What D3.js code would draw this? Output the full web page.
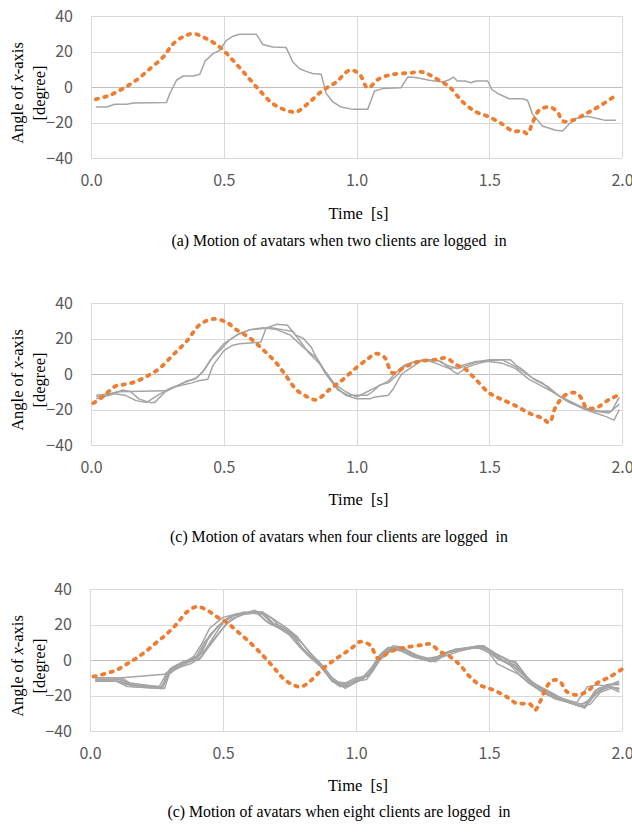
<!DOCTYPE html>
<html><head><meta charset="utf-8">
<script src="https://cdn.jsdelivr.net/npm/d3@7"></script>
<style>html,body{margin:0;padding:0;background:#fff;} svg{display:block;}</style>
</head><body>
<svg id="chart" width="632" height="835"></svg>
<script>
// ---- tick labels ----
const xTicks = [0, 0.5, 1.0, 1.5, 2.0];
const yTicks = [-40, -20, 0, 20, 40];
const xTitle = "Time  [s]";
const captions = [
  "(a) Motion of avatars when two clients are logged  in",
  "(c) Motion of avatars when four clients are logged  in",
  "(c) Motion of avatars when eight clients are logged  in"
];

// ---- panel (a): two clients ----
const p1Orange = [[0.018,-6.9],[0.07,-4.7],[0.12,-0.9],[0.17,3.8],[0.222,10.3],[0.272,16.9],[0.31,24.4],[0.35,28.5],[0.385,30],[0.435,27.2],[0.485,22.5],[0.535,15],[0.585,6.6],[0.635,-1.9],[0.685,-9.4],[0.735,-13.1],[0.773,-14],[0.823,-8.5],[0.873,-1.9],[0.924,2.8],[0.974,9.4],[1.01,7.5],[1.042,-0.4],[1.086,4.7],[1.137,7.1],[1.2,7.9],[1.25,8.4],[1.3,4.7],[1.35,0],[1.4,-8.4],[1.45,-14],[1.5,-16.9],[1.55,-21],[1.588,-24.8],[1.625,-24.8],[1.644,-26.2],[1.662,-20.6],[1.688,-13.1],[1.726,-11.3],[1.757,-14],[1.776,-19.1],[1.813,-18.8],[1.864,-15],[1.914,-10.9],[1.977,-4.7]];
const p1Gray = [[0.018,-11.3],[0.059,-11.3],[0.09,-9.7],[0.134,-9.7],[0.16,-9],[0.284,-8.8],[0.297,-3.7],[0.322,3.8],[0.347,6.2],[0.385,6.2],[0.41,7.2],[0.43,14.7],[0.46,18.8],[0.485,20.7],[0.51,26.3],[0.535,28.6],[0.56,29.7],[0.623,29.7],[0.647,24],[0.685,22.5],[0.735,22.2],[0.76,14.1],[0.786,10.3],[0.81,8.8],[0.835,7.6],[0.867,7.2],[0.886,-3.7],[0.911,-8.4],[0.942,-11.3],[0.986,-12.6],[1.042,-12.6],[1.068,-2.2],[1.099,-0.9],[1.168,-0.4],[1.193,5.6],[1.224,5.3],[1.274,3.8],[1.325,2.8],[1.35,4.1],[1.365,5.6],[1.38,3.4],[1.41,3.4],[1.43,2.4],[1.45,3.4],[1.494,3.4],[1.51,-1.5],[1.538,-4.1],[1.575,-6.6],[1.625,-6.6],[1.644,-7.5],[1.662,-15],[1.7,-22],[1.75,-24.4],[1.776,-24.8],[1.8,-21],[1.825,-17.8],[1.869,-16.5],[1.938,-18.8],[1.977,-18.8]];

// ---- panel (c): four clients ----
const p2Orange = [[0.009,-16.4],[0.046,-12.6],[0.09,-7],[0.12,-6],[0.16,-4.7],[0.21,-1.3],[0.26,3.4],[0.31,10.9],[0.36,18.4],[0.41,27.8],[0.46,31],[0.51,29.2],[0.547,25],[0.598,20.3],[0.648,13.7],[0.698,6.2],[0.736,-1.3],[0.773,-8.8],[0.81,-12.5],[0.848,-14.5],[0.898,-8.8],[0.948,-3.2],[0.998,3.4],[1.042,8.5],[1.074,11.5],[1.105,9.5],[1.136,0.6],[1.186,4.3],[1.237,7.1],[1.3,8.1],[1.337,9],[1.375,5.3],[1.413,2.4],[1.45,-3.2],[1.5,-10.7],[1.55,-14.5],[1.6,-17.9],[1.65,-22],[1.7,-24.9],[1.726,-27.3],[1.751,-18.3],[1.788,-11.7],[1.826,-10.7],[1.851,-14.5],[1.864,-18.7],[1.9,-19.2],[1.95,-14.5],[1.989,-11.7]];
const p2GrayA = [[0.02,-12],[0.08,-11],[0.13,-12],[0.17,-15],[0.21,-16],[0.25,-12],[0.3,-8],[0.35,-5],[0.4,-2],[0.43,3],[0.46,10],[0.5,17],[0.55,22],[0.6,25],[0.65,26],[0.7,25],[0.75,22],[0.8,15],[0.85,9],[0.88,2],[0.92,-6],[0.96,-10],[1.0,-13],[1.04,-10],[1.08,-7],[1.12,-4],[1.15,1],[1.18,5],[1.22,7],[1.26,8],[1.3,6],[1.35,3],[1.4,5],[1.45,7],[1.5,7],[1.55,6],[1.6,3],[1.65,-3],[1.7,-7],[1.75,-11],[1.8,-16],[1.85,-19],[1.9,-21],[1.95,-22],[1.99,-17]];
const p2GrayB = [[0.02,-13],[0.05,-12],[0.1,-10],[0.28,-9.5],[0.3,-8],[0.35,-6],[0.38,-5],[0.4,-4],[0.44,-3],[0.46,5],[0.5,13],[0.53,16],[0.56,17],[0.6,17.5],[0.64,18],[0.66,26],[0.7,28],[0.74,27.5],[0.77,22],[0.8,20],[0.83,15],[0.85,9],[0.88,1],[0.92,-7],[0.96,-12],[1.0,-14],[1.05,-14],[1.07,-13],[1.12,-12],[1.14,-8],[1.17,0],[1.2,3],[1.24,7],[1.28,8],[1.32,7],[1.36,2],[1.38,0],[1.42,4],[1.46,6],[1.5,7.5],[1.55,8],[1.58,8],[1.6,5],[1.63,2],[1.66,-2],[1.7,-5],[1.74,-10],[1.78,-14],[1.82,-17],[1.86,-20],[1.9,-22],[1.94,-24],[1.97,-26],[1.99,-20]];
const p2GrayC = [[0.02,-14],[0.07,-12],[0.12,-9],[0.15,-10],[0.18,-14],[0.22,-16],[0.24,-16],[0.28,-10],[0.32,-7],[0.36,-4],[0.39,-3],[0.42,1],[0.45,8],[0.49,14],[0.52,19],[0.56,23],[0.6,25],[0.64,25.5],[0.68,26],[0.72,25],[0.76,24],[0.79,18],[0.82,12],[0.86,6],[0.89,-1],[0.93,-9],[0.97,-12],[1.0,-12],[1.04,-12],[1.06,-10],[1.09,-6],[1.12,-5],[1.15,-1],[1.18,4],[1.22,7],[1.26,8],[1.3,8],[1.34,5],[1.38,3],[1.42,5],[1.46,7],[1.5,8],[1.55,8],[1.6,4],[1.64,0],[1.68,-4],[1.72,-7],[1.76,-12],[1.8,-15],[1.84,-18],[1.88,-20],[1.92,-21],[1.96,-21],[1.99,-13]];

// ---- panel (c): eight clients ----
const p3Orange = [[0.013,-9.4],[0.063,-7.5],[0.1,-5.6],[0.138,-2.3],[0.175,1.1],[0.213,5.2],[0.25,9.9],[0.288,14.6],[0.326,20.3],[0.363,26.9],[0.401,30],[0.439,28.2],[0.476,24.4],[0.514,21.2],[0.551,16.5],[0.601,9.9],[0.651,2.4],[0.689,-3.9],[0.726,-10.3],[0.764,-14.1],[0.795,-15],[0.827,-12],[0.877,-4.7],[0.927,0.9],[0.965,4.7],[0.99,7.5],[1.015,10.3],[1.052,8.5],[1.084,0.9],[1.128,4.7],[1.19,7.2],[1.253,8.5],[1.278,9],[1.316,4.7],[1.353,1.9],[1.391,-2.8],[1.428,-9.4],[1.466,-14.1],[1.516,-16.9],[1.566,-20.7],[1.604,-24.4],[1.654,-24.8],[1.673,-28.2],[1.692,-23.5],[1.717,-15],[1.742,-11.3],[1.767,-12.2],[1.792,-17.8],[1.83,-19.7],[1.867,-17.8],[1.905,-13.1],[1.955,-9.4],[1.999,-5.3]];
const p3Gray1 = [[0.02,-10],[0.12,-10],[0.2,-9],[0.28,-8],[0.31,-5],[0.35,-2],[0.39,2],[0.42,9],[0.45,18],[0.5,24],[0.55,26],[0.6,26],[0.64,27],[0.68,21],[0.72,19],[0.76,15],[0.79,8],[0.83,2],[0.87,-3],[0.91,-12],[0.96,-13],[1.0,-10],[1.05,-9],[1.08,0],[1.11,5],[1.14,8],[1.18,7],[1.22,2],[1.28,0],[1.32,3],[1.38,6],[1.44,7],[1.48,8],[1.52,2],[1.56,-1],[1.6,-3],[1.64,-10],[1.68,-14],[1.73,-18],[1.78,-22],[1.83,-24],[1.87,-15],[1.91,-14],[1.95,-15],[1.99,-16]];
const p3Gray2 = [[0.02,-11],[0.12,-11],[0.16,-15],[0.27,-16],[0.3,-6],[0.34,-3],[0.38,0],[0.41,3],[0.44,11],[0.48,19],[0.52,24],[0.57,26],[0.62,28],[0.66,25],[0.7,19],[0.74,16],[0.77,12],[0.81,4],[0.85,0],[0.89,-8],[0.93,-14],[0.97,-15],[1.02,-11],[1.05,-8],[1.08,1],[1.12,6],[1.15,7],[1.19,4],[1.24,1],[1.28,-1],[1.32,3],[1.37,6],[1.43,7],[1.49,6],[1.53,1],[1.57,-2],[1.61,-5],[1.65,-12],[1.7,-18],[1.76,-22],[1.82,-25],[1.86,-27],[1.9,-19],[1.94,-14],[1.99,-13]];
const p3Gray3 = [[0.02,-12],[0.11,-12],[0.15,-14],[0.27,-15],[0.3,-5],[0.34,-2],[0.37,-1],[0.41,0],[0.44,6],[0.47,12],[0.51,20],[0.55,24],[0.6,27],[0.65,26],[0.68,24],[0.72,18],[0.76,15],[0.8,9],[0.84,2],[0.88,-4],[0.92,-12],[0.96,-16],[1.0,-12],[1.04,-11],[1.07,-4],[1.1,3],[1.13,6],[1.17,5],[1.21,2],[1.26,0],[1.3,-1],[1.34,4],[1.4,6],[1.47,8],[1.51,5],[1.55,0],[1.6,-1],[1.64,-9],[1.68,-15],[1.74,-20],[1.8,-23],[1.85,-25],[1.88,-22],[1.92,-17],[1.96,-15],[1.99,-17]];
const p3Gray4 = [[0.02,-12],[0.1,-12],[0.14,-15],[0.27,-16],[0.29,-9],[0.33,-4],[0.36,-2],[0.4,1],[0.43,5],[0.46,12],[0.5,21],[0.54,25],[0.59,26],[0.63,27],[0.66,22],[0.71,18],[0.75,16],[0.78,10],[0.82,3],[0.86,-1],[0.9,-10],[0.94,-15],[0.98,-14],[1.03,-10],[1.06,-6],[1.09,2],[1.12,5],[1.16,7],[1.2,5],[1.25,1],[1.29,0],[1.33,2],[1.39,5],[1.45,7],[1.49,7],[1.53,3],[1.57,0],[1.61,-6],[1.66,-13],[1.71,-17],[1.76,-21],[1.81,-24],[1.86,-27],[1.89,-21],[1.93,-16],[1.97,-13],[1.99,-12]];
const p3Gray5 = [[0.02,-11],[0.11,-11],[0.15,-13],[0.26,-15],[0.29,-7],[0.33,-3],[0.37,0],[0.4,2],[0.43,10],[0.47,17],[0.51,23],[0.56,26],[0.61,27],[0.65,27],[0.69,20],[0.73,17],[0.77,13],[0.8,6],[0.84,1],[0.88,-6],[0.92,-13],[0.96,-14],[1.0,-11],[1.04,-9],[1.07,-3],[1.1,2],[1.14,6],[1.18,6],[1.22,3],[1.27,1],[1.31,2],[1.35,5],[1.41,6],[1.46,7],[1.5,4],[1.53,-2],[1.57,-5],[1.61,-8],[1.65,-13],[1.7,-18],[1.75,-22],[1.8,-24],[1.84,-26],[1.88,-25],[1.92,-18],[1.96,-16],[1.99,-18]];
const p3Gray6 = [[0.02,-10],[0.12,-10],[0.16,-14],[0.28,-16],[0.3,-7],[0.34,-4],[0.38,-2],[0.42,2],[0.45,9],[0.49,16],[0.53,23],[0.58,26],[0.62,27],[0.66,26],[0.7,22],[0.74,18],[0.78,13],[0.82,5],[0.86,-1],[0.9,-9],[0.94,-13],[0.98,-13],[1.02,-10],[1.06,-7],[1.09,0],[1.12,4],[1.15,6],[1.19,5],[1.23,2],[1.28,0],[1.32,2],[1.36,5],[1.42,7],[1.48,8],[1.52,4],[1.56,1],[1.6,-2],[1.63,-8],[1.67,-14],[1.72,-19],[1.78,-23],[1.83,-25],[1.87,-24],[1.91,-16],[1.95,-14],[1.99,-14]];
const p3Gray7 = [[0.02,-12],[0.1,-12],[0.14,-14],[0.27,-16],[0.31,-4],[0.35,-1],[0.39,1],[0.42,4],[0.45,14],[0.49,20],[0.53,25],[0.58,27],[0.63,26],[0.67,21],[0.71,18],[0.75,14],[0.79,7],[0.83,1],[0.87,-4],[0.91,-12],[0.95,-15],[0.99,-12],[1.03,-9],[1.06,-4],[1.09,3],[1.12,7],[1.16,7],[1.2,4],[1.25,1],[1.3,0],[1.34,4],[1.4,6],[1.46,8],[1.5,5],[1.54,1],[1.58,-3],[1.62,-9],[1.66,-14],[1.71,-19],[1.77,-22],[1.82,-25],[1.86,-26],[1.9,-17],[1.94,-15],[1.99,-16]];

const panels = [
  {orange: p1Orange, grays: [p1Gray], caption: captions[0]},
  {orange: p2Orange, grays: [p2GrayA, p2GrayB, p2GrayC], caption: captions[1]},
  {orange: p3Orange, grays: [p3Gray1, p3Gray2, p3Gray3, p3Gray4, p3Gray5, p3Gray6, p3Gray7], caption: captions[2]}
];

// ---- layout ----
const layout = [
  {left: 91, right: 622, top: 16, bottom: 158, titleY: 219, capY: 246},
  {left: 91, right: 622, top: 303, bottom: 445, titleY: 505, capY: 542},
  {left: 90, right: 622, top: 589, bottom: 731, titleY: 791, capY: 817}
];

const svg = d3.select("#chart");
const tickFont = "'Noto Sans CJK JP', 'Noto Sans', sans-serif";
const serif = "'Liberation Serif', 'Times New Roman', serif";

panels.forEach((p, i) => {
  const L = layout[i];
  const x = d3.scaleLinear().domain([0, 2]).range([L.left, L.right]);
  const y = d3.scaleLinear().domain([-40, 40]).range([L.bottom, L.top]);
  const g = svg.append("g");

  // grid
  g.selectAll(".hg").data(yTicks).join("line")
    .attr("x1", L.left).attr("x2", L.right)
    .attr("y1", d => Math.round(y(d)) + 0.5).attr("y2", d => Math.round(y(d)) + 0.5)
    .attr("stroke", d => d === 0 ? "#bfbfbf" : "#d9d9d9").attr("stroke-width", 1);
  g.selectAll(".vg").data(xTicks).join("line")
    .attr("x1", d => Math.round(x(d)) + 0.5).attr("x2", d => Math.round(x(d)) + 0.5)
    .attr("y1", L.top).attr("y2", L.bottom)
    .attr("stroke", "#d9d9d9").attr("stroke-width", 1);

  // y tick labels
  const yAxis = d3.axisLeft(y).tickValues(yTicks).tickSize(0).tickPadding(0).tickFormat(d3.format("d"));
  const ya = g.append("g").attr("transform", `translate(${L.left - 18},0)`).call(yAxis);
  ya.select(".domain").remove();
  ya.selectAll("text").attr("font-family", tickFont).attr("font-size", 16).attr("fill", "#595959");

  // x tick labels
  const xAxis = d3.axisBottom(x).tickValues(xTicks).tickSize(0).tickPadding(0).tickFormat(d3.format(".1f"));
  const xa = g.append("g").attr("transform", `translate(0,${L.bottom + 17})`).call(xAxis);
  xa.select(".domain").remove();
  xa.selectAll("text").attr("font-family", tickFont).attr("font-size", 16).attr("fill", "#595959");

  const line = d3.line().x(d => x(d[0])).y(d => y(d[1]));

  // gray lines
  p.grays.forEach(s => {
    g.append("path").datum(s).attr("d", line)
      .attr("fill", "none").attr("stroke", "#a5a5a5").attr("stroke-width", 1.5)
      .attr("stroke-linejoin", "round");
  });
  // orange dotted
  g.append("path").datum(p.orange).attr("d", d3.line().curve(d3.curveCatmullRom).x(d => x(d[0])).y(d => y(d[1])))
    .attr("fill", "none").attr("stroke", "#ed7d31").attr("stroke-width", 3.8)
    .attr("stroke-dasharray", "2.4,6.4").attr("stroke-linecap", "round");

  // y title
  const cy = (L.top + L.bottom) / 2 + 6;
  const t1 = g.append("text").attr("transform", `translate(23,${cy}) rotate(-90)`)
    .attr("text-anchor", "middle").attr("font-family", serif).attr("font-size", 16.5).attr("fill", "#000");
  t1.append("tspan").text("Angle of ");
  t1.append("tspan").attr("font-style", "italic").text("x");
  t1.append("tspan").text("-axis");
  g.append("text").attr("transform", `translate(45,${cy}) rotate(-90)`)
    .attr("text-anchor", "middle").attr("font-family", serif).attr("font-size", 16.5).attr("fill", "#000")
    .text("[degree]");

  // x title
  g.append("text").attr("x", (L.left + L.right) / 2 + 2).attr("y", L.titleY)
    .attr("text-anchor", "middle").attr("font-family", serif).attr("font-size", 16.5)
    .style("white-space", "pre").text(xTitle);

  // caption
  g.append("text").attr("x", 339).attr("y", L.capY)
    .attr("text-anchor", "middle").attr("font-family", serif).attr("font-size", 15.8)
    .style("white-space", "pre").text(p.caption);
});
</script>
</body></html>
